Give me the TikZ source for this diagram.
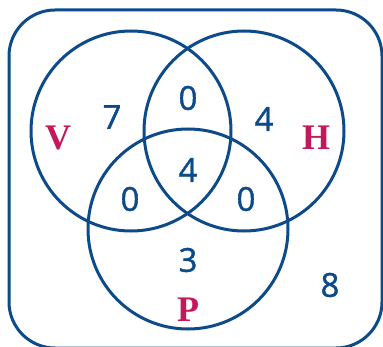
\documentclass[tikz,border=0pt]{standalone}
\usepackage{fontspec}
\setmainfont{Open Sans}
\newfontfamily\countfont{Open Sans}[FakeBold=1.2]
\newfontfamily\setnamefont{Liberation Serif}
\usetikzlibrary{positioning}
\definecolor{venblue}{HTML}{0D4A8A}
\definecolor{setred}{HTML}{C4185C}
\tikzset{
  universe/.style={draw=venblue, line width=3pt, rounded corners=46pt},
  setcircle/.style={draw=venblue, line width=3pt, circle, minimum size=200pt, inner sep=0pt},
  count/.style={text=venblue, inner sep=0pt, font=\countfont\fontsize{33}{36}\selectfont},
  setname/.style={text=setred, inner sep=0pt, font=\setnamefont\bfseries\fontsize{36}{40}\selectfont}
}
\begin{document}
\begin{tikzpicture}[x=1pt,y=1pt]
  \useasboundingbox (0,0) rectangle (383,346);
  \draw[universe] (9,-2) rectangle (382,336);

  % the three sets
  \node[setcircle] (setV) at (131,215) {};
  \node[setcircle] (setH) at (244,215) {};
  \node[setcircle] (setP) at (188,117) {};

  \node[setname] (nameV) at (58,208) {V};
  \node[setname] (nameH) at (316,208) {H};
  \node[setname] (nameP) at (188,36) {P};

  % region counts
  \node[count] (onlyV) at (112,229) {7};
  \node[count] (VH) at (188,248) {0};
  \node[count] (onlyH) at (264,227) {4};
  \node[count] (VHP) at (188,176) {4};
  \node[count] (VP) at (130,147) {0};
  \node[count] (HP) at (246,147) {0};
  \node[count] (onlyP) at (188,86) {3};
  \node[count] (none) at (330,61) {8};
\end{tikzpicture}
\end{document}
